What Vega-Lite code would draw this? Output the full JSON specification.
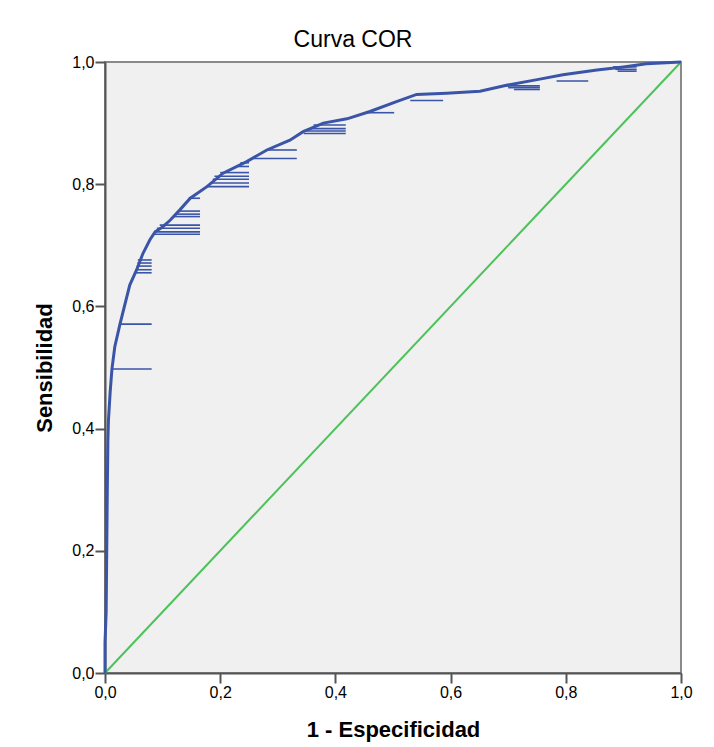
{
  "$schema": "https://vega.github.io/schema/vega-lite/v6.json",
  "width": 576,
  "height": 611,
  "autosize": {"type": "none"},
  "padding": {"left": 105, "top": 62, "right": 33, "bottom": 74},
  "background": "white",
  "title": {
    "text": "Curva COR",
    "font": "Liberation Sans",
    "fontSize": 23,
    "fontWeight": "normal",
    "color": "#000000",
    "anchor": "middle",
    "dx": -40,
    "offset": 2
  },
  "config": {
    "view": {"fill": "#F0F0F0", "stroke": "#8a8a8a", "strokeWidth": 2},
    "axis": {
      "grid": false,
      "labelFlush": false,
      "domainColor": "#555555",
      "domainWidth": 2,
      "tickColor": "#555555",
      "tickWidth": 2,
      "tickSize": 10,
      "labelFont": "Liberation Sans",
      "labelFontSize": 16,
      "labelColor": "#000000",
      "labelPadding": 1,
      "titleFont": "Liberation Sans",
      "titleFontSize": 22,
      "titleFontWeight": "bold",
      "titleColor": "#000000"
    }
  },
  "datasets": {
    "curve": [
      {"x": 0, "y": 0}, {"x": 0.0, "y": 0.05}, {"x": 0.002, "y": 0.1}, {"x": 0.003, "y": 0.2},
      {"x": 0.004, "y": 0.3}, {"x": 0.005, "y": 0.38}, {"x": 0.006, "y": 0.414}, {"x": 0.009, "y": 0.46},
      {"x": 0.012, "y": 0.497}, {"x": 0.017, "y": 0.534}, {"x": 0.026, "y": 0.571}, {"x": 0.035, "y": 0.605},
      {"x": 0.043, "y": 0.635}, {"x": 0.055, "y": 0.66}, {"x": 0.066, "y": 0.687}, {"x": 0.078, "y": 0.709},
      {"x": 0.087, "y": 0.722}, {"x": 0.1, "y": 0.73}, {"x": 0.113, "y": 0.741}, {"x": 0.13, "y": 0.758},
      {"x": 0.148, "y": 0.777}, {"x": 0.177, "y": 0.796}, {"x": 0.205, "y": 0.818}, {"x": 0.246, "y": 0.837},
      {"x": 0.281, "y": 0.856}, {"x": 0.321, "y": 0.872}, {"x": 0.344, "y": 0.886}, {"x": 0.379, "y": 0.9},
      {"x": 0.42, "y": 0.907}, {"x": 0.46, "y": 0.919}, {"x": 0.506, "y": 0.935}, {"x": 0.541, "y": 0.947},
      {"x": 0.593, "y": 0.949}, {"x": 0.651, "y": 0.952}, {"x": 0.697, "y": 0.962}, {"x": 0.755, "y": 0.972},
      {"x": 0.795, "y": 0.979}, {"x": 0.854, "y": 0.987}, {"x": 0.9, "y": 0.992}, {"x": 0.94, "y": 0.997},
      {"x": 1, "y": 1}
    ],
    "ties": [
      {"x1": 0.013, "x2": 0.081, "y": 0.4975},
      {"x1": 0.026, "x2": 0.081, "y": 0.571},
      {"x1": 0.057, "x2": 0.081, "y": 0.676},
      {"x1": 0.056, "x2": 0.081, "y": 0.671},
      {"x1": 0.055, "x2": 0.081, "y": 0.666},
      {"x1": 0.053, "x2": 0.081, "y": 0.66},
      {"x1": 0.052, "x2": 0.081, "y": 0.655},
      {"x1": 0.095, "x2": 0.165, "y": 0.733},
      {"x1": 0.09, "x2": 0.165, "y": 0.728},
      {"x1": 0.086, "x2": 0.165, "y": 0.722},
      {"x1": 0.085, "x2": 0.165, "y": 0.718},
      {"x1": 0.128, "x2": 0.165, "y": 0.756},
      {"x1": 0.124, "x2": 0.165, "y": 0.751},
      {"x1": 0.12, "x2": 0.165, "y": 0.747},
      {"x1": 0.145, "x2": 0.165, "y": 0.777},
      {"x1": 0.235, "x2": 0.25, "y": 0.835},
      {"x1": 0.232, "x2": 0.25, "y": 0.829},
      {"x1": 0.2, "x2": 0.25, "y": 0.819},
      {"x1": 0.19, "x2": 0.25, "y": 0.813},
      {"x1": 0.187, "x2": 0.25, "y": 0.808},
      {"x1": 0.182, "x2": 0.25, "y": 0.802},
      {"x1": 0.175, "x2": 0.25, "y": 0.796},
      {"x1": 0.28, "x2": 0.333, "y": 0.856},
      {"x1": 0.257, "x2": 0.333, "y": 0.842},
      {"x1": 0.362, "x2": 0.418, "y": 0.897},
      {"x1": 0.356, "x2": 0.418, "y": 0.891},
      {"x1": 0.35, "x2": 0.418, "y": 0.887},
      {"x1": 0.345, "x2": 0.418, "y": 0.883},
      {"x1": 0.454, "x2": 0.502, "y": 0.917},
      {"x1": 0.53, "x2": 0.587, "y": 0.937},
      {"x1": 0.69, "x2": 0.755, "y": 0.961},
      {"x1": 0.7, "x2": 0.755, "y": 0.958},
      {"x1": 0.71, "x2": 0.755, "y": 0.955},
      {"x1": 0.784, "x2": 0.839, "y": 0.969},
      {"x1": 0.882, "x2": 0.923, "y": 0.992},
      {"x1": 0.886, "x2": 0.923, "y": 0.988},
      {"x1": 0.89, "x2": 0.923, "y": 0.985}
    ],
    "ref": [{"x": 0, "y": 0}, {"x": 1, "y": 1}]
  },
  "layer": [
    {
      "data": {"name": "ref"},
      "mark": {"type": "line", "color": "#4DC25A", "strokeWidth": 2},
      "encoding": {
        "x": {"field": "x", "type": "quantitative", "scale": {"domain": [0, 1], "nice": false},
          "axis": {"title": "1 - Especificidad", "values": [0, 0.2, 0.4, 0.6, 0.8, 1], "format": ".1f",
            "labelExpr": "replace(datum.label, '.', ',')", "titlePadding": 19}},
        "y": {"field": "y", "type": "quantitative", "scale": {"domain": [0, 1], "nice": false},
          "axis": {"title": "Sensibilidad", "values": [0, 0.2, 0.4, 0.6, 0.8, 1], "format": ".1f",
            "labelExpr": "replace(datum.label, '.', ',')", "titlePadding": 15}}
      }
    },
    {
      "data": {"name": "ties"},
      "mark": {"type": "rule", "color": "#3A55A8", "strokeWidth": 1.6},
      "encoding": {
        "x": {"field": "x1", "type": "quantitative"},
        "x2": {"field": "x2"},
        "y": {"field": "y", "type": "quantitative"}
      }
    },
    {
      "data": {"name": "curve"},
      "mark": {"type": "line", "color": "#3A55A8", "strokeWidth": 3, "interpolate": "linear"},
      "encoding": {
        "x": {"field": "x", "type": "quantitative"},
        "y": {"field": "y", "type": "quantitative"}
      }
    }
  ]
}
